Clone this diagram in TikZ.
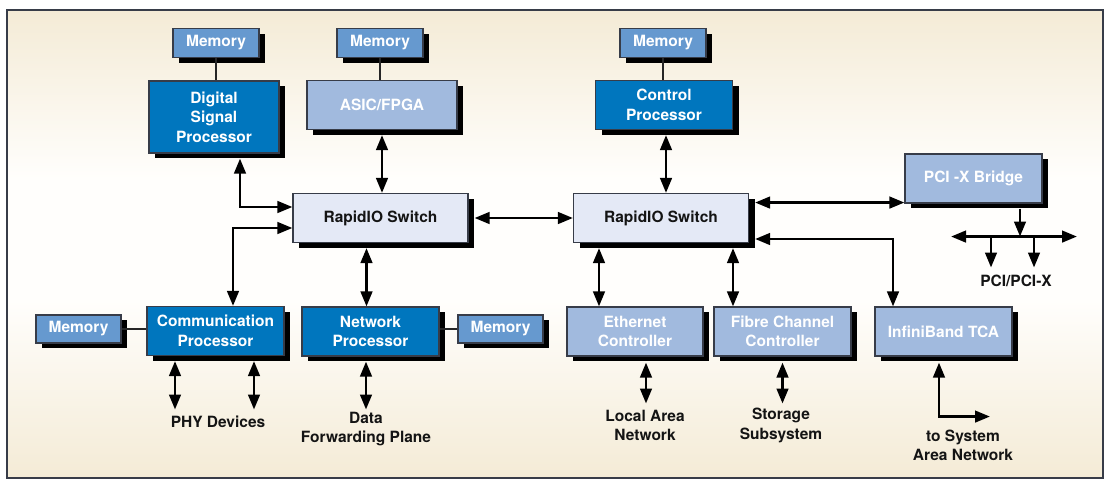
\documentclass[tikz,border=0pt]{standalone}
\usepackage{fontspec}
\setmainfont{TeX Gyre Heros}
\usetikzlibrary{arrows.meta,shadows,calc}
\definecolor{dkblue}{RGB}{0,118,190}
\definecolor{memc}{RGB}{102,153,207}
\definecolor{ltblue}{RGB}{161,186,222}
\definecolor{swc}{RGB}{228,233,246}
\definecolor{bord}{RGB}{55,60,72}
\definecolor{beige}{RGB}{244,235,214}
\definecolor{cream}{RGB}{255,254,252}
\definecolor{ink}{RGB}{20,20,20}
\pgfdeclareverticalshading{bgshade}{100bp}{color(0bp)=(beige); color(25bp)=(beige); color(44bp)=(cream); color(57bp)=(cream); color(75bp)=(beige); color(100bp)=(beige)}
\tikzset{
  box/.style={draw=bord, line width=1.1pt, inner sep=0pt, align=center,
    font=\fontsize{15.5}{19.5}\selectfont\bfseries, text=white,
    drop shadow={shadow xshift=6pt, shadow yshift=-5pt, opacity=1, fill=black}},
  membox/.style={box, fill=memc, minimum width=86pt, minimum height=29pt},
  dkbox/.style={box, fill=dkblue, minimum width=137pt, minimum height=49pt},
  ltbox/.style={box, fill=ltblue, minimum width=137pt, minimum height=49pt},
  swbox/.style={box, fill=swc, text=ink, minimum width=175pt, minimum height=49pt},
  lbl/.style={inner sep=0pt, align=center, text=ink,
    font=\fontsize{15.5}{19.5}\selectfont\bfseries},
  tip/.tip={Triangle[length=15pt,width=11.5pt]},
  arr/.style={line width=2.8pt, draw=black, tip-tip},
  arrone/.style={line width=2.8pt, draw=black, -tip},
  plain/.style={line width=2pt, draw=black!85}
}
\begin{document}
\begin{tikzpicture}[x=1pt,y=-1pt]
\useasboundingbox (0,0) rectangle (1105,480);
\fill[white] (0,0) rectangle (1105,480);
\shade[shading=bgshade] (7,10) rectangle (1103,478);
\draw[bord, line width=2pt] (7,10) rectangle (1103,478);

% top row
\node[membox] (m1) at (216,43) {Memory};
\node[membox] (m2) at (380,43) {Memory};
\node[membox] (m3) at (663,43) {Memory};
\node[dkbox, minimum width=130pt, minimum height=72pt] (dsp) at (214,117) {Digital\\Signal\\Processor};
\node[ltbox, minimum width=150pt] (asic) at (382,105) {ASIC/FPGA};
\node[dkbox] (ctl) at (664,105) {Control\\Processor};

% switches and bridge
\node[swbox] (s1) at (380.5,218) {RapidIO Switch};
\node[swbox] (s2) at (661,218) {RapidIO Switch};
\node[ltbox] (pci) at (973.5,178.5) {PCI -X Bridge};

% bottom row
\node[membox, minimum width=85pt, minimum height=28pt] (m4) at (78.5,329) {Memory};
\node[dkbox] (comm) at (215.5,331) {Communication\\Processor};
\node[dkbox] (net) at (370.5,331.5) {Network\\Processor};
\node[membox, minimum width=85pt, minimum height=28pt] (m5) at (500.5,329) {Memory};
\node[ltbox, minimum width=136pt] (eth) at (635,331.5) {Ethernet\\Controller};
\node[ltbox] (fc) at (782.5,331.5) {Fibre Channel\\Controller};
\node[ltbox] (ib) at (943.5,331.5) {InfiniBand TCA};

% labels
\node[lbl] (phy) at (218,422) {PHY Devices};
\node[lbl] (dfp) at (366,429) {Data\\Forwarding Plane};
\node[lbl] (lan) at (645,425.5) {Local Area\\Network};
\node[lbl] (sto) at (781,425.5) {Storage\\Subsystem};
\node[lbl] (san) at (963,445.5) {to System\\Area Network};
\node[lbl] (pcx) at (1016,281) {PCI/PCI-X};

% memory links
\draw[plain] (m1.south) -- (m1.south |- dsp.north);
\draw[plain] (m2.south) -- (m2.south |- asic.north);
\draw[plain] (m3.south) -- (m3.south |- ctl.north);
\draw[plain] (m4.east) -- (m4.east -| comm.west);
\draw[plain] (net.east |- m5.west) -- (m5.west);

% switch 1 links
\draw[arr] ($(dsp.south)+(26,5)$) |- ($(s1.west)+(0,-11)$);
\draw[arr] ($(s1.west)+(0,10)$) -| ($(comm.north)+(17.5,0)$);
\draw[arr] ($(asic.south)+(0,5)$) -- (asic.south |- s1.north);
\draw[arr] ($(s1.south -| net.north)+(-4,5)$) -- ($(net.north)+(-4,0)$);
\draw[arr] ($(s1.east)+(6,0)$) -- (s2.west);

% switch 2 links
\draw[arr] ($(ctl.south)+(2,5)$) -- ($(ctl.south |- s2.north)+(2,0)$);
\coordinate (pcin) at ($(pci.south west)+(0,-1)$);
\draw[arr] ($(s2.east |- pcin)+(6,0)$) -- (pcin);
\draw[arr] ($(s2.east)+(6,21)$) -| ($(ib.north)+(-50.5,0)$);
\draw[arr] ($(eth.north |- s2.south)+(-36,5)$) -- ($(eth.north)+(-36,0)$);
\draw[arr] ($(fc.north |- s2.south)+(-49.5,5)$) -- ($(fc.north)+(-49.5,0)$);

% PCI bus
\coordinate (busL) at ($(pci.south)+(-22.5,33)$);
\coordinate (busR) at ($(pci.south)+(103.5,33)$);
\coordinate (busM) at ($(pci.south)+(46.5,33)$);
\draw[arrone] ($(pci.south)+(46.5,5)$) -- (busM);
\draw[arr] (busL) -- (busR);
\draw[arrone] ($(busL)+(40,0)$) -- ($(busL)+(40,31)$);
\draw[arrone] ($(busL)+(83,0)$) -- ($(busL)+(83,31)$);

% bottom links
\draw[arr] ($(comm.south)+(-40.5,5)$) -- ($(comm.south)+(-40.5,53.5)$);
\draw[arr] ($(comm.south)+(38.5,5)$) -- ($(comm.south)+(38.5,53.5)$);
\draw[arr] ($(net.south)+(-4.5,5)$) -- ($(net.south)+(-4.5,53)$);
\draw[arr] ($(eth.south)+(11,6)$) -- ($(eth.south)+(11,47)$);
\draw[arr] ($(fc.south)+(0,6)$) -- ($(fc.south)+(0,47)$);
\draw[arr] ($(ib.south)+(-4.5,6)$) |- ($(ib.south)+(46.5,60)$);
\end{tikzpicture}
\end{document}
